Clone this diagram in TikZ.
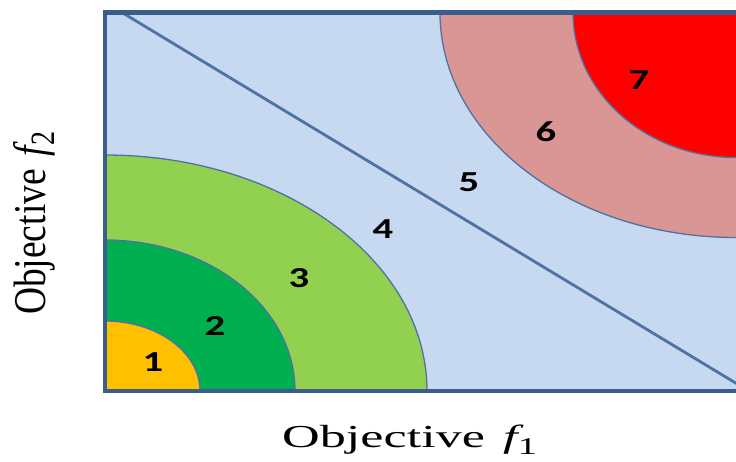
\documentclass[tikz,border=0pt]{standalone}
\usepackage{fontspec}
\setmainfont{Liberation Serif}
\newfontfamily\digitfont{Carlito}
\definecolor{bgblue}{RGB}{198,217,240}
\definecolor{framec}{RGB}{58,93,140}
\definecolor{arcc}{RGB}{79,113,163}
\definecolor{yel}{RGB}{255,192,0}
\definecolor{dgreen}{RGB}{0,176,80}
\definecolor{lgreen}{RGB}{146,208,80}
\definecolor{pinkc}{RGB}{217,150,148}
\definecolor{redc}{RGB}{255,0,0}
\tikzset{
  region/.style={draw=arcc, line width=1.3pt},
  numlabel/.style={inner sep=0pt, font=\digitfont\bfseries\fontsize{29}{29}\selectfont},
  axlabel/.style={inner sep=0pt, font=\fontsize{32}{36}\selectfont}
}
\newcommand{\wide}[1]{\scalebox{1.4}[1]{#1}}
\newcommand{\objf}[1]{Objective\hspace{0.1em} {\itshape f}\raisebox{-0.22em}{\fontsize{24}{24}\selectfont #1}}
\begin{document}
\begin{tikzpicture}[x=1pt,y=1pt]
\useasboundingbox (0,0) rectangle (736,461);
\fill[white] (0,0) rectangle (736,461);
\coordinate (bl) at (105,70);
\coordinate (tr) at (736,448.5);
\coordinate (d1) at (122,448.5);
\coordinate (d2) at (760,63.3);
\begin{scope}
  \clip (105,70) rectangle (736,448.5);
  \fill[bgblue] (105,70) rectangle (760,460);
  \filldraw[region, fill=pinkc] (tr) ellipse [x radius=296, y radius=225];
  \filldraw[region, fill=redc] (tr) ellipse [x radius=163, y radius=145];
  \draw[draw=arcc, line width=2.8pt] (d1) -- (d2);
  \filldraw[region, fill=lgreen] (bl) ellipse [x radius=322, y radius=236];
  \filldraw[region, fill=dgreen] (bl) ellipse [x radius=190, y radius=151];
  \filldraw[region, fill=yel] (bl) ellipse [x radius=95, y radius=70];
\end{scope}
\draw[framec, line width=4.6pt, line join=miter] (760,448.5) -- (105,448.5) -- (105,70) -- (760,70);
\node[numlabel] (n1) at (153,99) {\wide{1}};
\node[numlabel] (n2) at (215,135) {\wide{2}};
\node[numlabel] (n3) at (299,183) {\wide{3}};
\node[numlabel] (n4) at (383,232) {\wide{4}};
\node[numlabel] (n5) at (469,279) {\wide{5}};
\node[numlabel] (n6) at (546,329) {\wide{6}};
\node[numlabel] (n7) at (639,381) {\wide{7}};
\node[axlabel, anchor=base west] (xl) at (282,14)
  {\scalebox{1.63}[1]{\objf{1}}};
\node[axlabel, anchor=base west, rotate=90] (yl) at (45,146)
  {\scalebox{1.17}[1.42]{\objf{2}}};
\end{tikzpicture}
\end{document}
